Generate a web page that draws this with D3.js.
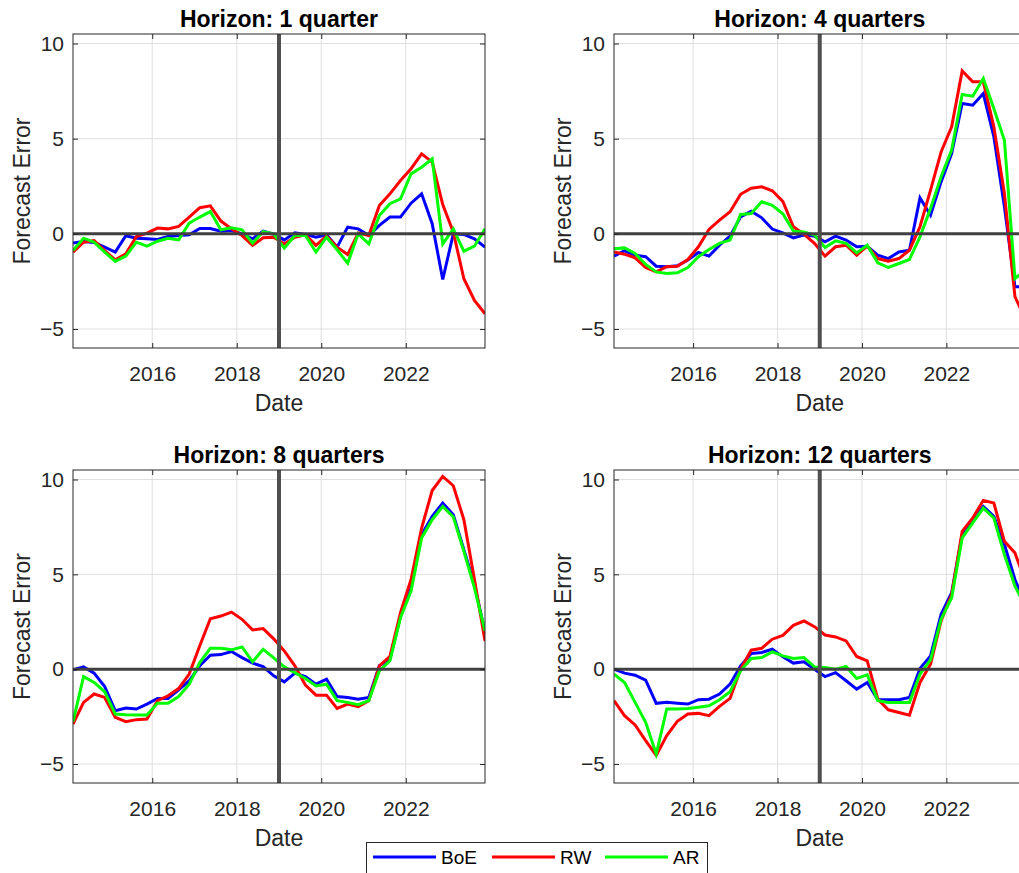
<!DOCTYPE html>
<html><head><meta charset="utf-8">
<script src="https://cdn.jsdelivr.net/npm/d3@7"></script>
<style>body{margin:0;background:#fff}svg{display:block}text{font-family:"Liberation Sans",Arial,sans-serif;fill:#262626}</style>
</head><body><svg id="c" width="1019" height="873"></svg>
<script>
// quarterly dates (mid-quarter), 2014Q1 .. 2023Q4
const startYear = 2014, nQuarters = 40;
const dates = d3.range(nQuarters).map(i => startYear + 0.125 + 0.25 * i);
const xTicks = [2016, 2018, 2020, 2022];
const yTicks = [-5, 0, 5, 10];
const splitYear = 2019;
const seriesNames = ["BoE", "RW", "AR"];
const seriesColors = ["#0000ff", "#ff0000", "#00ff00"];
const titles = ["Horizon: 1 quarter", "Horizon: 4 quarters", "Horizon: 8 quarters", "Horizon: 12 quarters"];

const boe1 = [-0.49,-0.4,-0.45,-0.7,-0.96,-0.1,-0.23,-0.26,-0.3,-0.14,-0.09,-0.05,0.28,0.28,0.14,0.17,0,-0.26,0.14,-0.02,-0.32,0.05,-0.03,-0.18,-0.05,-0.7,0.35,0.26,-0.09,0.44,0.88,0.88,1.61,2.1,0.53,-2.4,0,-0.03,-0.26,-0.7];
const rw1  = [-0.96,-0.44,-0.35,-0.88,-1.37,-1.05,-0.14,0.04,0.3,0.26,0.39,0.88,1.37,1.47,0.67,0.26,-0.09,-0.61,-0.21,-0.18,-0.53,-0.18,-0.05,-0.61,-0.12,-0.7,-1.09,0.04,-0.09,1.49,2.1,2.8,3.42,4.2,3.77,1.54,0.09,-2.36,-3.5,-4.2];
const ar1  = [-0.88,-0.23,-0.44,-0.96,-1.45,-1.17,-0.44,-0.65,-0.39,-0.23,-0.32,0.56,0.88,1.17,0.21,0.32,0.21,-0.49,0.12,0,-0.75,-0.09,-0.09,-0.96,-0.18,-0.84,-1.54,0,-0.53,0.96,1.58,1.84,3.15,3.5,3.94,-0.53,0.26,-0.91,-0.65,0.26];

const boe4 = [-1.17,-0.89,-1.12,-1.2,-1.7,-1.73,-1.68,-1.38,-0.98,-1.17,-0.6,-0.12,0.89,1.19,0.84,0.25,0.05,-0.21,-0.07,-0.12,-0.42,-0.12,-0.33,-0.68,-0.65,-1.12,-1.3,-0.95,-0.86,1.89,0.98,2.73,4.22,6.85,6.76,7.37,5.1,1.42,-2.78,-2.8];
const rw4  = [-0.95,-1.07,-1.26,-1.77,-2.0,-1.73,-1.7,-1.35,-0.68,0.23,0.72,1.16,2.08,2.4,2.47,2.26,1.7,0.37,-0.02,-0.5,-1.17,-0.68,-0.6,-1.12,-0.65,-1.3,-1.44,-1.3,-0.86,0.37,2.3,4.3,5.62,8.56,7.99,7.99,5.62,2.12,-3.3,-4.5];
const ar4  = [-0.79,-0.74,-1.03,-1.61,-2.0,-2.08,-2.05,-1.77,-1.2,-0.82,-0.5,-0.33,1.02,1.07,1.68,1.5,1.05,0.14,0.1,-0.07,-0.72,-0.37,-0.5,-1.0,-0.6,-1.52,-1.77,-1.56,-1.35,-0.16,1.33,3.0,4.4,7.32,7.23,8.16,6.58,4.92,-2.35,-1.9];

const boe8 = [-0.03,0.12,-0.21,-0.91,-2.19,-2.05,-2.1,-1.84,-1.54,-1.54,-1.09,-0.61,0.18,0.74,0.77,0.93,0.61,0.32,0.14,-0.35,-0.67,-0.21,-0.39,-0.79,-0.53,-1.44,-1.49,-1.58,-1.49,0.18,0.53,2.8,4.55,7.09,8.06,8.76,8.14,6.3,4.47,1.93];
const rw8  = [-2.89,-1.75,-1.31,-1.49,-2.54,-2.77,-2.66,-2.63,-1.66,-1.4,-1.02,-0.26,1.23,2.66,2.8,3.01,2.63,2.07,2.14,1.6,0.96,0.18,-0.84,-1.37,-1.37,-2.07,-1.84,-1.98,-1.66,0.18,0.67,2.98,4.73,7.44,9.42,10.16,9.67,7.88,4.73,1.49];
const ar8  = [-2.77,-0.39,-0.7,-1.19,-2.36,-2.4,-2.42,-2.42,-1.8,-1.8,-1.44,-0.79,0.35,1.1,1.1,1.02,1.17,0.39,1.05,0.6,0.12,-0.18,-0.49,-0.88,-0.79,-1.66,-1.75,-1.87,-1.66,-0.09,0.44,2.71,4.12,6.92,7.88,8.58,8.02,6.22,4.29,2.01];

const boe12 = [0,-0.21,-0.32,-0.58,-1.8,-1.75,-1.8,-1.84,-1.61,-1.58,-1.31,-0.79,0.18,0.82,0.88,1.05,0.65,0.32,0.39,0,-0.39,-0.18,-0.61,-1.05,-0.7,-1.61,-1.61,-1.61,-1.49,0.04,0.7,2.89,4.03,7.09,7.88,8.58,8.06,6.57,4.73,3.4];
const rw12  = [-1.66,-2.45,-2.94,-3.77,-4.55,-3.5,-2.75,-2.36,-2.33,-2.45,-1.96,-1.54,0,1.0,1.1,1.58,1.78,2.31,2.54,2.24,1.8,1.7,1.49,0.67,0.44,-1.58,-2.14,-2.28,-2.42,-0.7,0.26,2.54,3.94,7.27,7.97,8.9,8.76,6.74,6.13,4.6];
const ar12  = [-0.26,-0.7,-1.75,-2.8,-4.47,-2.1,-2.1,-2.07,-2.01,-1.93,-1.61,-1.19,-0.09,0.56,0.61,0.91,0.7,0.56,0.61,0.12,0.09,0,0.14,-0.49,-0.3,-1.66,-1.75,-1.75,-1.75,-0.26,0.49,2.63,3.77,6.92,7.71,8.49,7.97,6.04,4.38,3.3];

const panelSeries = [[boe1, rw1, ar1], [boe4, rw4, ar4], [boe8, rw8, ar8], [boe12, rw12, ar12]];

const svg = d3.select("#c");
const colX = [[73, 485], [614, 1025.5]];
const rowY = [[34, 348], [470, 783]];
const axisColor = "#262626";

panelSeries.forEach((series, p) => {
  const col = p % 2, row = Math.floor(p / 2);
  const [L, R] = colX[col], [T, B] = rowY[row];
  const x = d3.scaleLinear().domain([startYear + 0.125, startYear + 0.125 + 0.25 * (nQuarters - 1)]).range([L, R]);
  const y = d3.scaleLinear().domain([-6, 10.5]).range([B, T]);
  const g = svg.append("g");
  const clipId = "clip" + p;
  g.append("clipPath").attr("id", clipId).append("rect").attr("x", L).attr("y", T).attr("width", R - L).attr("height", B - T);
  g.append("rect").attr("x", L).attr("y", T).attr("width", R - L).attr("height", B - T).attr("fill", "#fff");
  // grid
  const grid = g.append("g").attr("stroke", "#dfdfdf").attr("stroke-width", 1);
  xTicks.forEach(t => grid.append("line").attr("x1", x(t)).attr("x2", x(t)).attr("y1", T).attr("y2", B));
  yTicks.forEach(t => grid.append("line").attr("x1", L).attr("x2", R).attr("y1", y(t)).attr("y2", y(t)));
  // series
  const plot = g.append("g").attr("clip-path", `url(#${clipId})`);
  const line = d3.line().x((d, i) => x(dates[i])).y(d => y(d));
  series.forEach((s, k) => {
    plot.append("path").datum(s).attr("d", line).attr("fill", "none")
      .attr("stroke", seriesColors[k]).attr("stroke-width", 3).attr("stroke-linejoin", "miter");
  });
  // reference lines
  plot.append("line").attr("x1", L).attr("x2", R).attr("y1", y(0)).attr("y2", y(0)).attr("stroke", "#404040").attr("stroke-width", 3);
  plot.append("line").attr("x1", x(splitYear)).attr("x2", x(splitYear)).attr("y1", T).attr("y2", B).attr("stroke", "#505050").attr("stroke-width", 4);
  // axes
  const xb = d3.axisBottom(x).tickValues(xTicks).tickFormat(d3.format("d")).tickSizeInner(-5).tickSizeOuter(0).tickPadding(14);
  const ax = g.append("g").attr("transform", `translate(0,${B})`).call(xb);
  const xt = d3.axisTop(x).tickValues(xTicks).tickFormat("").tickSizeInner(-5).tickSizeOuter(0);
  g.append("g").attr("transform", `translate(0,${T})`).call(xt);
  const yl = d3.axisLeft(y).tickValues(yTicks).tickSizeInner(-5).tickSizeOuter(0).tickPadding(9);
  const ay = g.append("g").attr("transform", `translate(${L},0)`).call(yl);
  const yr = d3.axisRight(y).tickValues(yTicks).tickFormat("").tickSizeInner(-5).tickSizeOuter(0);
  g.append("g").attr("transform", `translate(${R},0)`).call(yr);
  g.selectAll(".domain").remove();
  g.selectAll(".tick line").attr("stroke", axisColor);
  g.selectAll(".tick text").attr("fill", axisColor).style("font-size", "21px").attr("font-family", null);
  ax.selectAll(".tick text").attr("dy", null).attr("y", 33);
  g.append("rect").attr("x", L).attr("y", T).attr("width", R - L).attr("height", B - T)
    .attr("fill", "none").attr("stroke", axisColor).attr("stroke-width", 1);
  // labels
  g.append("text").attr("x", (L + R) / 2).attr("y", T - 7).attr("text-anchor", "middle")
    .style("font-size", "23px").style("font-weight", "bold").style("fill", "#000").text(titles[p]);
  g.append("text").attr("x", (L + R) / 2).attr("y", B + 63).attr("text-anchor", "middle")
    .style("font-size", "23px").text("Date");
  g.append("text").attr("transform", `translate(${L - 43},${(T + B) / 2}) rotate(-90)`).attr("text-anchor", "middle")
    .style("font-size", "23px").text("Forecast Error");
});

// legend
const lg = svg.append("g");
lg.append("rect").attr("x", 366.5).attr("y", 842.5).attr("width", 341).attr("height", 40).attr("fill", "#fff").attr("stroke", axisColor).attr("stroke-width", 1);
const legendX = [373, 492, 605];
seriesNames.forEach((n, k) => {
  lg.append("line").attr("x1", legendX[k]).attr("x2", legendX[k] + 63).attr("y1", 857).attr("y2", 857).attr("stroke", seriesColors[k]).attr("stroke-width", 3);
  lg.append("text").attr("x", legendX[k] + 68).attr("y", 864).style("font-size", "19px").style("fill", "#000").text(n);
});
</script></body></html>
